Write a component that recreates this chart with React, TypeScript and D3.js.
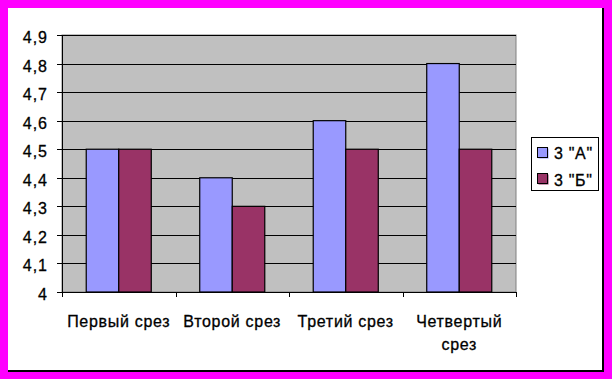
import React from "react";
import * as d3 from "d3";

const categories = [["Первый срез"], ["Второй срез"], ["Третий срез"], ["Четвертый", "срез"]];
const seriesNames = ['3 "А"', '3 "Б"'];
const seriesA = [4.5, 4.4, 4.6, 4.8];
const seriesB = [4.5, 4.3, 4.5, 4.5];
const yTicks = [4, 4.1, 4.2, 4.3, 4.4, 4.5, 4.6, 4.7, 4.8, 4.9];
const colors = ["#9999FF", "#993366"];

const W = 612, H = 379;
const L = 62, R = 516, T = 35, B = 292;
const font = "Arial, 'Liberation Sans', sans-serif";

export default function App() {
  const x = d3.scaleBand<number>().domain(d3.range(categories.length)).range([L, R]).paddingInner(0).paddingOuter(0);
  const inner = d3.scaleBand<number>().domain([0, 1]).range([0, x.bandwidth() * 0.573]);
  const groupOffset = (x.bandwidth() - x.bandwidth() * 0.573) / 2;
  const y = d3.scaleLinear().domain([4, 4.9]).range([B, T]);
  const series = [seriesA, seriesB];
  const fmt = (v: number) => (Number.isInteger(v) ? String(v) : v.toFixed(1).replace(".", ","));
  const textStyle = { stroke: "#000", strokeWidth: 0.3 };

  return (
    <svg width={W} height={H} style={{ position: "absolute", left: 0, top: 0 }} fontFamily={font}>
      <rect x={0} y={0} width={W} height={H} fill="#FF00FF" />
      <rect x={8} y={8} width={596} height={364} fill="#000" />
      <rect x={8} y={8} width={594} height={362} fill="#fff" />
      <rect x={L} y={T} width={R - L} height={B - T} fill="#C0C0C0" stroke="#808080" strokeWidth={1} />
      {yTicks.slice(1).map((t) => (
        <line key={t} x1={L} x2={R} y1={Math.round(y(t)) + 0.5} y2={Math.round(y(t)) + 0.5} stroke="#000" />
      ))}
      {categories.map((_, i) =>
        series.map((s, j) => {
          const x0 = x(i)! + groupOffset + inner(j)!;
          return (
            <rect key={`${i}-${j}`} x={x0} y={y(s[i])} width={inner.bandwidth()} height={B - y(s[i])}
              fill={colors[j]} stroke="#000" strokeWidth={1.2} />
          );
        })
      )}
      <line x1={L + 0.5} x2={L + 0.5} y1={T} y2={B} stroke="#000" />
      <line x1={L} x2={R + 1} y1={B + 0.5} y2={B + 0.5} stroke="#000" />
      {yTicks.map((t) => (
        <g key={t}>
          <line x1={L - 5} x2={L} y1={Math.round(y(t)) + 0.5} y2={Math.round(y(t)) + 0.5} stroke="#000" />
          <text x={48} y={y(t) + 8} textAnchor="end" fontSize={16} letterSpacing={1} style={textStyle}>{fmt(t)}</text>
        </g>
      ))}
      {d3.range(categories.length + 1).map((i) => {
        const xx = Math.round(i < categories.length ? x(i)! : R) + 0.5;
        return <line key={i} x1={xx} x2={xx} y1={B} y2={B + 5} stroke="#000" />;
      })}
      {categories.map((lines, i) => (
        <text key={i} x={x(i)! + x.bandwidth() / 2} y={327} textAnchor="middle" fontSize={16} letterSpacing={0.7} style={textStyle}>
          {lines.map((ln, k) => (
            <tspan key={k} x={x(i)! + x.bandwidth() / 2} dy={k === 0 ? 0 : 23}>{ln}</tspan>
          ))}
        </text>
      ))}
      <rect x={531.5} y={137.5} width={67} height={53} fill="#fff" stroke="#000" />
      {seriesNames.map((n, j) => (
        <g key={n}>
          <rect x={538.5} y={148.5 + j * 26} width={10} height={10} fill={colors[j]} />
          <rect x={537.5} y={147.5 + j * 26} width={10} height={10} fill={colors[j]} stroke="#000" />
          <text x={554} y={159 + j * 27} fontSize={16} letterSpacing={0.7} style={textStyle}>{n}</text>
        </g>
      ))}
    </svg>
  );
}
